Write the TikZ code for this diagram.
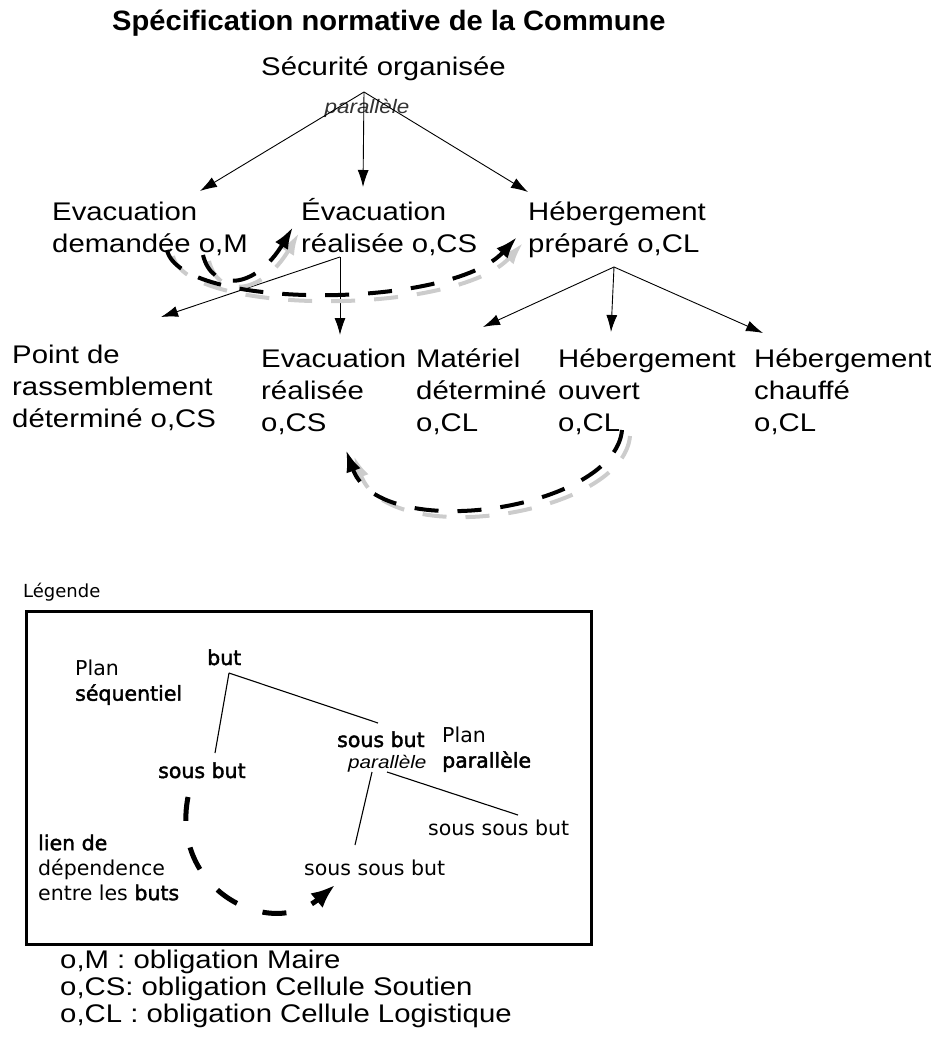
\documentclass[tikz,border=0pt]{standalone}
\usepackage{fontspec}
\usetikzlibrary{arrows.meta}
\newfontfamily\mainf[FakeStretch=1.15]{Liberation Sans}
\newfontfamily\titf[FakeStretch=1.04]{Liberation Sans}
\newfontfamily\legf{DejaVu Sans}
\newfontfamily\legbf[FakeBold=2]{DejaVu Sans}
\newcommand\topA{\rule{0pt}{27pt}}
\newcommand\topL{\rule{0pt}{22pt}}
\begin{document}
\begin{tikzpicture}[x=1pt,y=-1pt,
  main/.style={inner sep=0pt, anchor=north west, align=left,
    font={\mainf\fontsize{25.5}{32}\selectfont}},
  mainone/.style={inner sep=0pt, anchor=base west, font={\mainf\fontsize{25.5}{32}\selectfont}},
  notes/.style={main, font={\mainf\fontsize{25.5}{27}\selectfont}},
  leg/.style={inner sep=0pt, anchor=base west, font={\legf\fontsize{20.5}{25}\selectfont}},
  legb/.style={leg, font={\legbf\fontsize{20.5}{25}\selectfont}},
  legml/.style={inner sep=0pt, anchor=north west, align=left,
    font={\legf\fontsize{20.5}{25.5}\selectfont}},
  thinarrow/.style={line width=0.9pt, -{Latex[length=17pt,width=11pt]}},
  dep/.style={line width=4pt, dash pattern=on 24pt off 19pt, -{Latex[length=22pt,width=15pt]}},
  depshadow/.style={dep, draw=black!20},
  legline/.style={line width=1.1pt},
  legdep/.style={line width=5pt, dash pattern=on 24pt off 27pt, -{Latex[length=24pt,width=19pt]}}
]
\useasboundingbox (0,0) rectangle (930,1039);

% title
\node[inner sep=0pt, anchor=base west, font={\titf\bfseries\fontsize{28}{32}\selectfont}] (title) at (112,30) {Spécification normative de la Commune};

% goals
\node[mainone] (secu) at (261,75) {Sécurité organisée};
\node[inner sep=0pt, anchor=base, font={\mainf\itshape\fontsize{19.5}{22}\selectfont}, text=black!80] (par1) at (367,113) {parallèle};

\node[main] (ed) at (52,193) {\topA Evacuation\\demandée o,M};
\node[main] (er) at (301,193) {\topA Évacuation\\réalisée o,CS};
\node[main] (hp) at (528,193) {\topA Hébergement\\préparé o,CL};

\node[main] (pr) at (12,336) {\topA Point de\\rassemblement\\déterminé o,CS};
\node[main] (er2) at (261,340) {\topA Evacuation\\réalisée\\o,CS};
\node[main] (md) at (416,340) {\topA Matériel\\déterminé\\o,CL};
\node[main] (ho) at (558,340) {\topA Hébergement\\ouvert\\o,CL};
\node[main] (hc) at (754,340) {\topA Hébergement\\chauffé\\o,CL};

% decomposition arrows
\coordinate (f0) at (364,92);
\coordinate (t0a) at (200,191);
\coordinate (t0b) at (363,187);
\coordinate (t0c) at (528,192);
\draw[thinarrow] (f0) -- (t0a);
\draw[thinarrow] (f0) -- (t0b);
\draw[thinarrow] (f0) -- (t0c);

\coordinate (f1) at (340,257);
\coordinate (t1a) at (161,317);
\coordinate (t1b) at (340,335);
\draw[thinarrow] (f1) -- (t1a);
\draw[thinarrow] (f1) -- (t1b);

\coordinate (f2) at (614,267);
\coordinate (t2a) at (483,327);
\coordinate (t2b) at (611,332);
\coordinate (t2c) at (763,333);
\draw[thinarrow] (f2) -- (t2a);
\draw[thinarrow] (f2) -- (t2b);
\draw[thinarrow] (f2) -- (t2c);

% dependency links (shadows first)
\coordinate (dA0) at (167,250);
\coordinate (dA1) at (517,237);
\coordinate (dB0) at (203,255);
\coordinate (dB1) at (293,227);
\coordinate (dC0) at (622,430);
\coordinate (dC1) at (346,450);

\draw[depshadow] ([xshift=6pt,yshift=-6pt]dA0) .. controls (186,316) and (456,316) .. ([xshift=6pt,yshift=-6pt]dA1);
\draw[depshadow] ([xshift=6pt,yshift=-6pt]dB0) .. controls (218,298) and (261,296) .. ([xshift=6pt,yshift=-6pt]dB1);
\draw[depshadow] ([xshift=8pt,yshift=-6pt]dC0) .. controls (623,516) and (388,551) .. ([xshift=8pt,yshift=-6pt]dC1);

\draw[dep] (dA0) .. controls (180,310) and (450,310) .. (dA1);
\draw[dep] (dB0) .. controls (212,292) and (255,290) .. (dB1);
\draw[dep] (dC0) .. controls (615,510) and (380,545) .. (dC1);

% legend
\node[inner sep=0pt, anchor=base west, font={\legf\fontsize{18}{22}\selectfont}] (legtitle) at (23,597) {Légende};
\node[draw, line width=3pt, inner sep=0pt, anchor=north west, minimum width=565pt, minimum height=333pt] (box) at (25,610) {};

\node[legml] (plans) at (75,653) {\topL Plan\\{\legbf séquentiel}};
\node[legb] (but) at (207,665) {but};
\node[legb] (sbl) at (158,778) {sous but};
\node[legb] (sbr) at (337,747) {sous but};
\node[inner sep=0pt, anchor=base west, font={\mainf\itshape\fontsize{18}{22}\selectfont}] (par2) at (348,768) {parallèle};
\node[legml] (planp) at (442,720) {\topL Plan\\{\legbf parallèle}};
\node[leg] (ssbr) at (428,835) {sous sous but};
\node[leg] (ssbl) at (304,875) {sous sous but};
\node[legml, font={\legf\fontsize{20.5}{25}\selectfont}] (lien) at (38,828) {\topL{\legbf lien de}\\dépendence\\entre les {\legbf buts}};

\coordinate (lb) at (229,673);
\coordinate (lbl) at (215,753);
\coordinate (lbr) at (378,723);
\draw[legline] (lb) -- (lbl);
\draw[legline] (lb) -- (lbr);
\coordinate (lp1) at (372,772);
\coordinate (lp2) at (387,772);
\coordinate (lpl) at (355,845);
\coordinate (lpr) at (518,815);
\draw[legline] (lp1) -- (lpl);
\draw[legline] (lp2) -- (lpr);

\coordinate (ld0) at (188,797);
\coordinate (ld1) at (335,885);
\draw[legdep] (ld0) .. controls (170,890) and (270,940) .. (ld1);

% notes
\node[notes] (notes) at (60,941) {\topA o,M : obligation Maire\\o,CS: obligation Cellule Soutien\\o,CL : obligation Cellule Logistique};
\end{tikzpicture}
\end{document}
